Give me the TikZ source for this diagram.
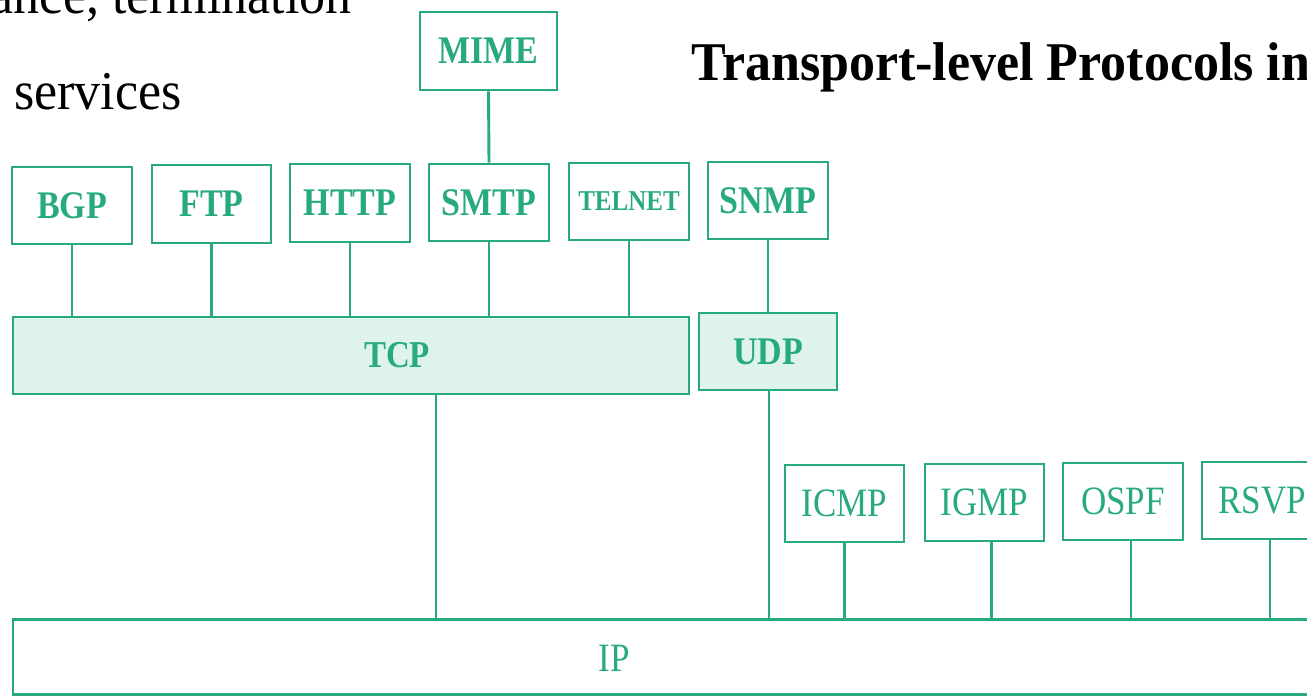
\documentclass[tikz,border=0pt]{standalone}
\usepackage{fontspec}
\usepackage{graphicx}
\setmainfont{Liberation Serif}
\definecolor{pgreen}{RGB}{40,170,128}
\definecolor{pfill}{RGB}{222,243,236}
\newcommand{\lbl}[2]{\scalebox{1}[1.15]{\fontsize{#1}{#1}\selectfont #2}}
\newcommand{\btxt}[1]{\scalebox{1}[1.05]{#1}}
\tikzset{
  pbox/.style={draw=pgreen, line width=2.9pt, fill=white, inner sep=0pt, text=pgreen,
               font=\bfseries},
  lbox/.style={pbox, font=\mdseries},
  tbox/.style={pbox, fill=pfill},
  conn/.style={draw=pgreen, line width=2.9pt},
  plain/.style={inner sep=0pt, text=pgreen},
  btext/.style={inner sep=0pt, text=black, font=\fontsize{52}{52}\selectfont},
}
\begin{document}
\begin{tikzpicture}[x=1pt, y=-1pt]
\useasboundingbox (0,0) rectangle (1307,696);
\clip (0,0) rectangle (1307,696);

% black text
\node[btext, anchor=base east] (t1) at (352,13) {\btxt{ance, termination}};
\node[btext, anchor=base west] (t2) at (14,109) {\btxt{services}};
\node[btext, anchor=base west, font=\fontsize{52}{52}\selectfont\bfseries] (title) at (691,80) {\btxt{Transport-level Protocols in}};

% application row
\node[pbox, minimum width=137pt, minimum height=78pt] (mime) at (488.5,51) {\lbl{34}{MIME}};
\node[pbox, minimum width=120pt, minimum height=77pt] (bgp) at (72,205.5) {\lbl{34}{BGP}};
\node[pbox, minimum width=119pt, minimum height=78pt] (ftp) at (211.5,204) {\lbl{34}{FTP}};
\node[pbox, minimum width=120pt, minimum height=78pt] (http) at (350,203) {\lbl{34}{HTTP}};
\node[pbox, minimum width=120pt, minimum height=77pt] (smtp) at (489,202.5) {\lbl{34}{SMTP}};
\node[pbox, minimum width=120pt, minimum height=77pt] (telnet) at (629,201.5) {\lbl{25}{TELNET}};
\node[pbox, minimum width=120pt, minimum height=77pt] (snmp) at (768,200.5) {\lbl{34}{SNMP}};

% transport row
\node[tbox, minimum width=676pt, minimum height=77pt] (tcp) at (351,355.5) {};
\node[plain, font=\bfseries] (tcplbl) at (397,355) {\lbl{33}{TCP}};
\node[tbox, minimum width=138pt, minimum height=77pt] (udp) at (768,351.5) {\lbl{34}{UDP}};

% network-level protocols
\node[lbox, minimum width=119pt, minimum height=77pt] (icmp) at (844.5,503.5) {\lbl{35}{ICMP}};
\node[lbox, minimum width=119pt, minimum height=77pt] (igmp) at (984.5,502.5) {\lbl{35}{IGMP}};
\node[lbox, minimum width=120pt, minimum height=77pt] (ospf) at (1123,501.5) {\lbl{35}{OSPF}};
\node[lbox, minimum width=120pt, minimum height=77pt] (rsvp) at (1262,500.5) {\lbl{35}{RSVP}};

% IP
\node[lbox, minimum width=1340pt, minimum height=75pt] (ip) at (683,657) {};
\node[plain] (iplbl) at (614,658) {\lbl{35}{IP}};

\coordinate (tcpx) at (436,0);
\coordinate (udpx) at (769,0);

% connectors
\draw[conn] (mime.south) -- (smtp.north);
\foreach \n in {bgp,ftp,http,smtp,telnet}{
  \draw[conn] (\n.south) -- (\n.south |- tcp.north);
}
\draw[conn] (snmp.south) -- (udp.north);
\draw[conn] (tcpx |- tcp.south) -- (tcpx |- ip.north);
\draw[conn] (udpx |- udp.south) -- (udpx |- ip.north);
\draw[conn] (icmp.south) -- (icmp.south |- ip.north);
\draw[conn] ([xshift=7pt]igmp.south) -- ([xshift=7pt]igmp.south |- ip.north);
\draw[conn] ([xshift=8pt]ospf.south) -- ([xshift=8pt]ospf.south |- ip.north);
\draw[conn] ([xshift=8pt]rsvp.south) -- ([xshift=8pt]rsvp.south |- ip.north);
\end{tikzpicture}
\end{document}
